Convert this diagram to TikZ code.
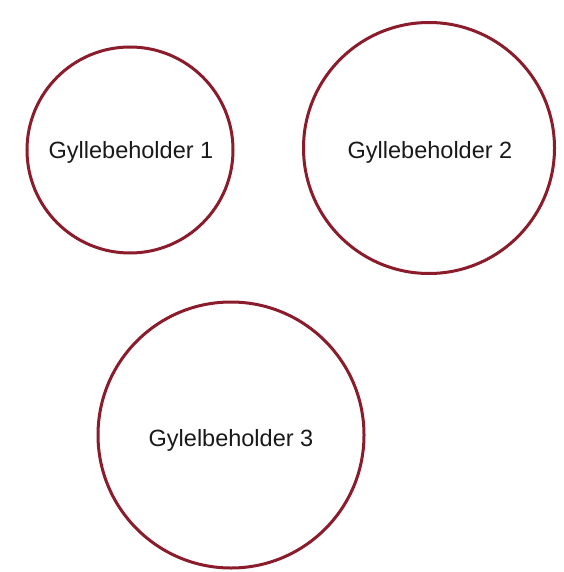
\documentclass[tikz,border=0pt]{standalone}
\usepackage{fontspec}
\setmainfont{Liberation Sans}
\definecolor{tankred}{HTML}{8A1C2B}
\begin{document}
\begin{tikzpicture}[x=1pt,y=-1pt,
  tank/.style={circle,draw=tankred,line width=3pt,inner sep=0pt},
  tanklabel/.style={font=\fontsize{23.5}{27}\selectfont,text=black!90}]
\useasboundingbox[fill=white] (0,0) rectangle (563,572);
\node[tank,minimum size=206pt] (t1) at (130,150) {};
\node[tanklabel] (l1) at (131,152) {Gyllebeholder 1};
\node[tank,minimum size=251pt] (t2) at (429,148) {};
\node[tanklabel] (l2) at (430,152) {Gyllebeholder 2};
\node[tank,minimum size=266pt] (t3) at (231,435) {};
\node[tanklabel] (l3) at (231,440) {Gylelbeholder 3};
\end{tikzpicture}
\end{document}
